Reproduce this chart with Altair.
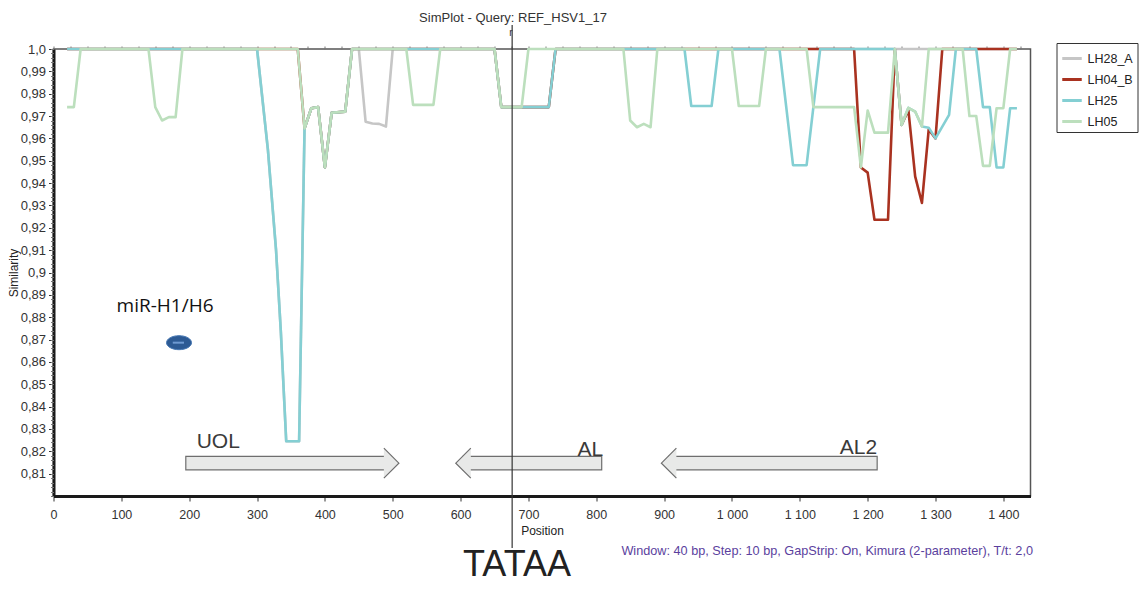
import altair as alt
import pandas as pd

# ---------------- data ----------------
series_names = ["LH28_A", "LH04_B", "LH25", "LH05"]
series_colors = ["#c6c6c6", "#a93220", "#84cfd3", "#bcdfbd"]

lh28_pos = [20, 300, 316, 328, 335, 340, 343, 362, 370, 380, 390, 400, 410, 430, 440,
            450, 460, 470, 480, 490, 500, 650, 660, 730, 740, 1420]
lh28_sim = [1.0, 1.0, 0.955, 0.91, 0.874, 0.843, 0.8245, 0.8245, 0.9645, 0.9735, 0.974, 0.947, 0.9715, 0.972, 1.0,
            1.0, 0.9675, 0.9667, 0.9665, 0.9653, 1.0, 1.0, 0.974, 0.974, 1.0, 1.0]

lh04_pos = [20, 360, 370, 380, 390, 400, 410, 430, 440, 650, 660, 730, 740,
            1180, 1190, 1200, 1210, 1230, 1240, 1250, 1260, 1270, 1280, 1290, 1300, 1310, 1420]
lh04_sim = [1.0, 1.0, 0.9645, 0.9735, 0.974, 0.947, 0.9715, 0.972, 1.0, 1.0, 0.974, 0.974, 1.0,
            1.0, 0.947, 0.9447, 0.9236, 0.9236, 1.0, 0.966, 0.9727, 0.943, 0.9311, 0.964, 0.960, 1.0, 1.0]

lh25_pos = [20, 300, 316, 328, 335, 340, 343, 362, 370, 380, 390, 400, 410, 430, 440,
            650, 660, 730, 740, 930, 940, 970, 980, 1070, 1090, 1110, 1130,
            1240, 1250, 1260, 1270, 1280, 1290, 1300, 1320, 1330,
            1360, 1370, 1380, 1390, 1400, 1410, 1420]
lh25_sim = [1.0, 1.0, 0.955, 0.91, 0.874, 0.843, 0.8245, 0.8245, 0.9645, 0.9735, 0.974, 0.947, 0.9715, 0.972, 1.0,
            1.0, 0.974, 0.974, 1.0, 1.0, 0.9745, 0.9745, 1.0, 1.0, 0.948, 0.948, 1.0,
            1.0, 0.966, 0.9737, 0.972, 0.9653, 0.9648, 0.960, 0.9705, 1.0,
            1.0, 0.974, 0.974, 0.947, 0.947, 0.9735, 0.9735]

lh05_pos = [20, 30, 40, 140, 150, 160, 170, 180, 190,
            360, 370, 380, 390, 400, 410, 430, 440,
            520, 530, 560, 570, 650, 660, 690, 700,
            840, 850, 860, 870, 880, 890, 1000, 1010, 1040, 1050,
            1110, 1120, 1180, 1190, 1200, 1210, 1230, 1240,
            1250, 1260, 1270, 1280, 1290,
            1340, 1350, 1360, 1370, 1380, 1390, 1400, 1410, 1420]
lh05_sim = [0.974, 0.974, 1.0, 1.0, 0.974, 0.968, 0.9695, 0.9695, 1.0,
            1.0, 0.9645, 0.9735, 0.974, 0.947, 0.9715, 0.972, 1.0,
            1.0, 0.975, 0.975, 1.0, 1.0, 0.974, 0.974, 1.0,
            1.0, 0.968, 0.965, 0.9665, 0.965, 1.0, 1.0, 0.9745, 0.9745, 1.0,
            1.0, 0.974, 0.974, 0.947, 0.9725, 0.9626, 0.9626, 1.0,
            0.966, 0.9737, 0.972, 0.9653, 1.0,
            1.0, 0.970, 0.970, 0.9477, 0.9477, 0.9735, 0.9735, 1.0, 1.0]

x_major = [0, 100, 200, 300, 400, 500, 600, 700, 800, 900, 1000, 1100, 1200, 1300, 1400]
y_major = [0.81, 0.82, 0.83, 0.84, 0.85, 0.86, 0.87, 0.88, 0.89, 0.90,
           0.91, 0.92, 0.93, 0.94, 0.95, 0.96, 0.97, 0.98, 0.99, 1.0]
x_minor = list(range(0, 1441, 25))
y_minor = [round(0.80 + 0.002 * i, 3) for i in range(101)]

# annotations
arrow_names = ["UOL", "AL", "AL2"]
arrow_start = [195, 604, 907]      # body start (position)
arrow_end = [498, 808, 1214]       # body end (position)
arrow_head = [498, 604, 907]       # head centre (position)
arrow_dir = ["right", "left", "left"]
arrow_low, arrow_high, arrow_mid = 0.8117, 0.8177, 0.8147

label_text = ["UOL", "AL", "AL2"]
label_pos = [211, 810, 1214]
label_sim = [0.8216, 0.8180, 0.8189]
label_side = ["left", "right", "right"]

mir_text = ["miR-H1/H6"]
mir_pos = [93]
mir_sim = [0.8825]
dot_pos = [185]
dot_sim = [0.8686]

tataa_pos = 676

# ---------------- build tables ----------------
rows = []
for name, xs, ys in zip(series_names,
                        [lh28_pos, lh04_pos, lh25_pos, lh05_pos],
                        [lh28_sim, lh04_sim, lh25_sim, lh05_sim]):
    for i, (x, y) in enumerate(zip(xs, ys)):
        rows.append({"series": name, "pos": x, "sim": y, "idx": i})
df = pd.DataFrame(rows)

xscale = alt.Scale(domain=[0, 1440], nice=False, zero=False)
yscale = alt.Scale(domain=[0.80, 1.0], nice=False, zero=False)
cscale = alt.Scale(domain=series_names, range=series_colors)
FONT = "Liberation Sans"

major_x_axis = alt.Axis(
    values=x_major,
    labelExpr="datum.value >= 1000 ? '1 ' + format(datum.value - 1000, '03d') : format(datum.value, 'd')",
    title="Position", titleFont=FONT, titleFontSize=12, titleFontWeight="normal", titleColor="#222",
    titleY=34, titleBaseline="middle",
    labelFont=FONT, labelFontSize=12.5, labelColor="#333", labelPadding=7,
    tickSize=5, tickColor="#333", tickWidth=1, domainColor="#1a1a1a", domainWidth=3,
    grid=False, labelFlush=False, labelOverlap=False)
major_y_axis = alt.Axis(
    values=y_major,
    labelExpr="datum.value >= 0.9999 ? '1,0' : replace(format(datum.value, '.2~f'), '.', ',')",
    title="Similarity", titleFont=FONT, titleFontSize=12, titleFontWeight="normal", titleColor="#222",
    titleX=-40, titleY=223.5, titleAngle=-90, titleAlign="center", titleBaseline="middle",
    labelFont=FONT, labelFontSize=13, labelColor="#333", labelPadding=3,
    tickSize=5, tickColor="#333", tickWidth=1, domainColor="#1a1a1a", domainWidth=3,
    grid=False, labelFlush=False, labelOverlap=False)
minor_x_axis = alt.Axis(values=x_minor, labels=False, domain=False, title=None, grid=False,
                        tickSize=3, tickColor="#777", tickWidth=1)
minor_y_axis = alt.Axis(values=y_minor, labels=False, domain=False, title=None, grid=False,
                        tickSize=3, tickColor="#777", tickWidth=1, orient="left")

axis_major = alt.Chart(df).mark_point(opacity=0).encode(
    x=alt.X("pos:Q", scale=xscale, axis=major_x_axis),
    y=alt.Y("sim:Q", scale=yscale, axis=major_y_axis),
)
axis_minor = alt.Chart(df).mark_point(opacity=0).encode(
    x=alt.X("pos:Q", scale=xscale, axis=minor_x_axis),
    y=alt.Y("sim:Q", scale=yscale, axis=minor_y_axis),
)

legend = alt.Legend(orient="none", legendX=1003, legendY=-6, title=None,
                    symbolType="stroke", symbolStrokeWidth=3, symbolSize=380,
                    labelFont=FONT, labelFontSize=12.5, labelColor="#222", labelOffset=4,
                    strokeColor="#333", fillColor="white", padding=4, rowPadding=3)

line_layers = []
for name in series_names:
    line_layers.append(
        alt.Chart(df[df["series"] == name]).mark_line(strokeWidth=2.6, strokeJoin="round", clip=False).encode(
            x=alt.X("pos:Q", scale=xscale, axis=None),
            y=alt.Y("sim:Q", scale=yscale, axis=None),
            color=alt.Color("series:N", scale=cscale, legend=legend),
            order="idx:Q",
        )
    )

arrows = pd.DataFrame({"name": arrow_names, "start": arrow_start, "end": arrow_end,
                       "head": arrow_head, "dir": arrow_dir,
                       "low": [arrow_low] * 3, "high": [arrow_high] * 3, "mid": [arrow_mid] * 3})

bodies = alt.Chart(arrows).mark_rect(fill="#e8e9e8", stroke="#6e6e6e", strokeWidth=1.2).encode(
    x=alt.X("start:Q", scale=xscale, axis=None), x2="end:Q",
    y=alt.Y("low:Q", scale=yscale, axis=None), y2="high:Q",
)
head_right = alt.Chart(arrows[arrows["dir"] == "right"]).mark_point(
    shape="M-0.5,-1L0.5,0L-0.5,1", size=900, filled=True, fill="#e8e9e8", fillOpacity=1,
    stroke="#6e6e6e", strokeWidth=1.2, strokeOpacity=1, opacity=1).encode(
    x=alt.X("head:Q", scale=xscale, axis=None),
    y=alt.Y("mid:Q", scale=yscale, axis=None),
)
head_left = alt.Chart(arrows[arrows["dir"] == "left"]).mark_point(
    shape="M0.5,-1L-0.5,0L0.5,1", size=900, filled=True, fill="#e8e9e8", fillOpacity=1,
    stroke="#6e6e6e", strokeWidth=1.2, strokeOpacity=1, opacity=1).encode(
    x=alt.X("head:Q", scale=xscale, axis=None),
    y=alt.Y("mid:Q", scale=yscale, axis=None),
)

labels = pd.DataFrame({"text": label_text, "pos": label_pos, "sim": label_sim, "side": label_side})
lab_left = alt.Chart(labels[labels["side"] == "left"]).mark_text(
    align="left", baseline="alphabetic", font=FONT, fontSize=21, color="#3a3a3a").encode(
    x=alt.X("pos:Q", scale=xscale, axis=None), y=alt.Y("sim:Q", scale=yscale, axis=None), text="text:N")
lab_right = alt.Chart(labels[labels["side"] == "right"]).mark_text(
    align="right", baseline="alphabetic", font=FONT, fontSize=21, color="#3a3a3a").encode(
    x=alt.X("pos:Q", scale=xscale, axis=None), y=alt.Y("sim:Q", scale=yscale, axis=None), text="text:N")

mir = alt.Chart(pd.DataFrame({"text": mir_text, "pos": mir_pos, "sim": mir_sim})).mark_text(
    align="left", baseline="alphabetic", font="Open Sans", fontSize=19, color="#111").encode(
    x=alt.X("pos:Q", scale=xscale, axis=None), y=alt.Y("sim:Q", scale=yscale, axis=None), text="text:N")

dot_df = pd.DataFrame({"pos": dot_pos, "sim": dot_sim})
dot = alt.Chart(dot_df).mark_point(
    shape="M-1,0A1,0.56,0,1,0,1,0A1,0.56,0,1,0,-1,0Z", size=625, filled=True,
    fill="#2d5a94", fillOpacity=1, stroke="#4677b3", strokeWidth=1, opacity=1).encode(
    x=alt.X("pos:Q", scale=xscale, axis=None), y=alt.Y("sim:Q", scale=yscale, axis=None))
dot_hi = alt.Chart(dot_df).mark_point(
    shape="M-0.5,0L0.4,0", size=625, filled=False, stroke="#6f9ad2", strokeWidth=2, opacity=1).encode(
    x=alt.X("pos:Q", scale=xscale, axis=None), y=alt.Y("sim:Q", scale=yscale, axis=None))

vline = alt.Chart(pd.DataFrame({"p": [tataa_pos]})).mark_rule(color="#333", strokeWidth=1.2).encode(
    x=alt.X("p:Q", scale=xscale, axis=None),
    y=alt.value(-24), y2=alt.value(499),
)

title_txt = alt.Chart(pd.DataFrame({"t": ["SimPlot - Query: REF_HSV1_17"]})).mark_text(
    align="center", baseline="middle", font=FONT, fontSize=13, color="#333").encode(
    x=alt.value(459.5), y=alt.value(-31), text="t:N")
r_txt = alt.Chart(pd.DataFrame({"t": ["r"]})).mark_text(
    align="center", baseline="middle", font=FONT, fontSize=10, color="#333").encode(
    x=alt.value(457.5), y=alt.value(-16), text="t:N")
footer = alt.Chart(pd.DataFrame({"t": ["Window: 40 bp, Step: 10 bp, GapStrip: On, Kimura (2-parameter), T/t: 2,0"]})).mark_text(
    align="right", baseline="middle", font=FONT, fontSize=12.7, color="#5b3f9e").encode(
    x=alt.value(979.5), y=alt.value(502), text="t:N")
tataa = alt.Chart(pd.DataFrame({"t": ["TATAA"]})).mark_text(
    align="center", baseline="alphabetic", font=FONT, fontSize=36, color="#222").encode(
    x=alt.value(463.5), y=alt.value(527), text="t:N")

chart = alt.layer(
    axis_major, axis_minor, *line_layers,
    bodies, head_right, head_left, vline,
    lab_left, lab_right, mir, dot, dot_hi,
    title_txt, r_txt, footer, tataa,
).resolve_axis(x="independent", y="independent").properties(
    width=977, height=447,
    autosize=alt.AutoSizeParams(type="none"),
    padding={"left": 45.5, "top": 41, "right": 109.5, "bottom": 90},
).configure_view(stroke="#555", strokeWidth=1.5)

chart.save("out.html", embed_options={"renderer": "svg", "actions": False})
